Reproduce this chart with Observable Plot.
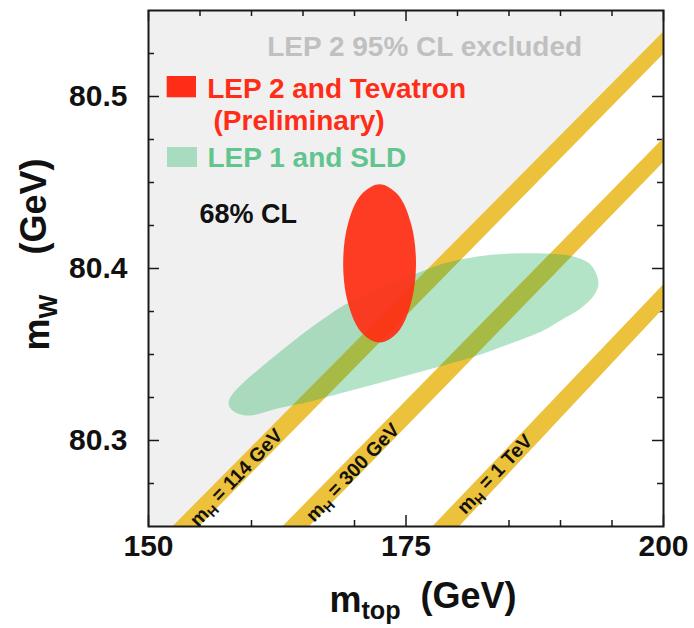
<!DOCTYPE html>
<html><head><meta charset="utf-8">
<script src="https://cdn.jsdelivr.net/npm/d3@7"></script>
<script src="https://cdn.jsdelivr.net/npm/@observablehq/plot@0.6"></script>
<style>body{margin:0;background:#fff}#chart svg{display:block}</style>
</head><body><div id="chart"></div>
<script>
// ---- axes ----
const mtDomain = [150, 200];
const mwDomain = [80.25, 80.55];
const xMajorTicks = [150, 175, 200];
const xMinorTicks = [155, 160, 165, 170, 180, 185, 190, 195];
const yMajorTicks = [80.3, 80.4, 80.5];
const yMinorTicks = [80.275, 80.325, 80.35, 80.375, 80.425, 80.45, 80.475, 80.525];
const xTickLabels = ["150", "175", "200"];
const yTickLabels = ["80.3", "80.4", "80.5"];

// ---- LEP 2 95% CL excluded region (upper left) ----
const excludedMt = [150, 153.6, 200, 200, 150];
const excludedMw = [80.25, 80.25, 80.531, 80.55, 80.55];

// ---- SM bands for Higgs masses ----
const bandHiggs = ["114 GeV", "300 GeV", "1 TeV"];
const bandBottomUpperMt = [152.30, 162.98, 177.54];
const bandBottomLowerMt = [154.88, 165.56, 180.13];
const bandRightUpperMw = [80.538, 80.476, 80.391];
const bandRightLowerMw = [80.525, 80.462, 80.377];
const bandLabelMt = [158.6, 169.9, 183.7];
const bandLabelMw = [80.278, 80.281, 80.280];

// ---- LEP 1 and SLD 68% CL contour ----
const lep1Mt = [159.90, 158.64, 157.96, 157.77, 158.06, 159.13, 160.68, 162.62, 164.76, 166.89, 168.93, 172.52, 176.02, 178.64, 181.94, 185.15, 188.35, 191.26, 192.91, 193.69, 193.30, 191.94, 190.00, 188.35, 185.15, 181.94, 178.64, 175.44, 172.23, 168.93, 165.73, 162.52];
const lep1Mw = [80.3145, 80.3157, 80.3186, 80.3221, 80.3262, 80.3331, 80.3413, 80.3509, 80.3610, 80.3703, 80.3785, 80.3890, 80.3971, 80.4029, 80.4070, 80.4087, 80.4087, 80.4070, 80.4023, 80.3919, 80.3849, 80.3767, 80.3698, 80.3640, 80.3564, 80.3494, 80.3436, 80.3384, 80.3331, 80.3279, 80.3227, 80.3186];

// ---- LEP 2 and Tevatron 68% CL contour ----
const lep2Mt = [175.97, 175.49, 174.20, 172.43, 170.66, 169.37, 168.90, 169.37, 170.66, 172.43, 174.20, 175.49];
const lep2Mw = [80.403, 80.426, 80.443, 80.449, 80.443, 80.426, 80.403, 80.380, 80.363, 80.357, 80.363, 80.380];

// ---- tables ----
const excluded = excludedMt.map((mt, i) => ({mt, mw: excludedMw[i]}));
const bands = bandHiggs.flatMap((band, i) => [
  {band, mt: bandBottomUpperMt[i], mw: mwDomain[0]},
  {band, mt: mtDomain[1], mw: bandRightUpperMw[i]},
  {band, mt: mtDomain[1], mw: bandRightLowerMw[i]},
  {band, mt: bandBottomLowerMt[i], mw: mwDomain[0]}
]);
const bandLabels = bandHiggs.map((band, i) => ({band, mt: bandLabelMt[i], mw: bandLabelMw[i]}));
const lep1 = lep1Mt.map((mt, i) => ({mt, mw: lep1Mw[i]}));
const lep2 = lep2Mt.map((mt, i) => ({mt, mw: lep2Mw[i]}));

const W = 694, H = 628, mL = 148, mR = 31, mT = 10, mB = 102;
const pw = W - mL - mR, ph = H - mT - mB;
const majorLen = 11, minorLen = 6;
const tickStyle = {stroke: "#1a1a1a", strokeWidth: 1.5};
const font = "'Liberation Sans', Arial, Helvetica, sans-serif";
const red = "#ff2d17", greenText = "#62c48f", greenSwatch = "#a8dcc0";

function ticksX(vals, len) {
  return [
    Plot.tickX(vals, {x: d => d, insetTop: ph - len, ...tickStyle}),
    Plot.tickX(vals, {x: d => d, insetBottom: ph - len, ...tickStyle})
  ];
}
function ticksY(vals, len) {
  return [
    Plot.tickY(vals, {y: d => d, insetRight: pw - len, ...tickStyle}),
    Plot.tickY(vals, {y: d => d, insetLeft: pw - len, ...tickStyle})
  ];
}
function note(str, dx, dy, size, fill) {
  return Plot.text([str], {text: d => d, frameAnchor: "top-left", dx, dy, textAnchor: "start",
    lineAnchor: "bottom", fontSize: size, fontWeight: "bold", fill});
}
function swatch(x0, y0, x1, y1, fill) {
  return Plot.rect([0], {insetLeft: x0 - mL, insetRight: (W - mR) - x1, insetTop: y0 - mT,
    insetBottom: (H - mB) - y1, fill});
}

const plot = Plot.plot({
  width: W, height: H,
  marginLeft: mL, marginRight: mR, marginTop: mT, marginBottom: mB,
  x: {domain: mtDomain, axis: null},
  y: {domain: mwDomain, axis: null},
  style: {fontFamily: font, background: "white", overflow: "visible"},
  marks: [
    Plot.line(excluded, {x: "mt", y: "mw", fill: "#f0f0f0", stroke: "none", curve: "linear-closed"}),
    ...ticksX(xMajorTicks, majorLen), ...ticksX(xMinorTicks, minorLen),
    ...ticksY(yMajorTicks, majorLen), ...ticksY(yMinorTicks, minorLen),
    Plot.line(bands, {x: "mt", y: "mw", z: "band", fill: "#ecc13c", stroke: "none", curve: "linear-closed"}),
    Plot.line(lep1, {x: "mt", y: "mw", fill: "#1cad58", fillOpacity: 0.33, stroke: "none", curve: "catmull-rom-closed"}),
    Plot.line(lep2, {x: "mt", y: "mw", fill: "#ff2e14", fillOpacity: 0.93, stroke: "none", curve: "catmull-rom-closed"}),
    Plot.frame({stroke: "#1a1a1a", strokeWidth: 2}),
    Plot.text(xMajorTicks, {x: d => d, text: (d, i) => xTickLabels[i], frameAnchor: "bottom", dy: 8,
      lineAnchor: "top", fontSize: 30, fontWeight: "bold", fill: "#111"}),
    Plot.text(yMajorTicks, {y: d => d, text: (d, i) => yTickLabels[i], frameAnchor: "left", dx: -21,
      textAnchor: "end", fontSize: 30, fontWeight: "bold", fill: "#111"}),
    Plot.text(bandLabels, {x: "mt", y: "mw", text: d => "m|H| = " + d.band, rotate: -46,
      fontSize: 19.5, fontWeight: "bold", fill: "#111"}),
    note("LEP 2 95% CL excluded", 118.7, 45, 28, "#c0c0c0"),
    swatch(166.7, 76, 196, 97.3, red),
    note("LEP 2 and Tevatron", 58.7, 87.3, 28, red),
    note("(Preliminary)", 65, 119.5, 28, red),
    swatch(167, 147, 197, 167, greenSwatch),
    note("LEP 1 and SLD", 59, 156, 28, greenText),
    note("68% CL", 51, 212, 27, "#111"),
    Plot.text(["m|top|\u00a0\u00a0(GeV)"], {text: d => d, frameAnchor: "bottom", dx: 17, dy: 85,
      textAnchor: "middle", lineAnchor: "bottom", fontSize: 36, fontWeight: "bold", fill: "#111"}),
    Plot.text(["m|W|\u00a0\u00a0\u00a0\u00a0(GeV)"], {text: d => d, frameAnchor: "left", dx: -111, dy: -14,
      textAnchor: "middle", rotate: -90, fontSize: 36, fontWeight: "bold", fill: "#111"})
  ]
});

d3.select(plot).selectAll("text").each(function () {
  const t = this.textContent;
  if (!t.includes("|")) return;
  const [a, b, c] = t.split("|");
  const sel = d3.select(this).text(null).style("white-space", "pre");
  sel.append("tspan").text(a);
  sel.append("tspan").attr("font-size", "70%").attr("dy", "0.3em").text(b);
  sel.append("tspan").attr("dy", "-0.3em").text(c);
});

document.getElementById("chart").appendChild(plot);
</script>
</body></html>
